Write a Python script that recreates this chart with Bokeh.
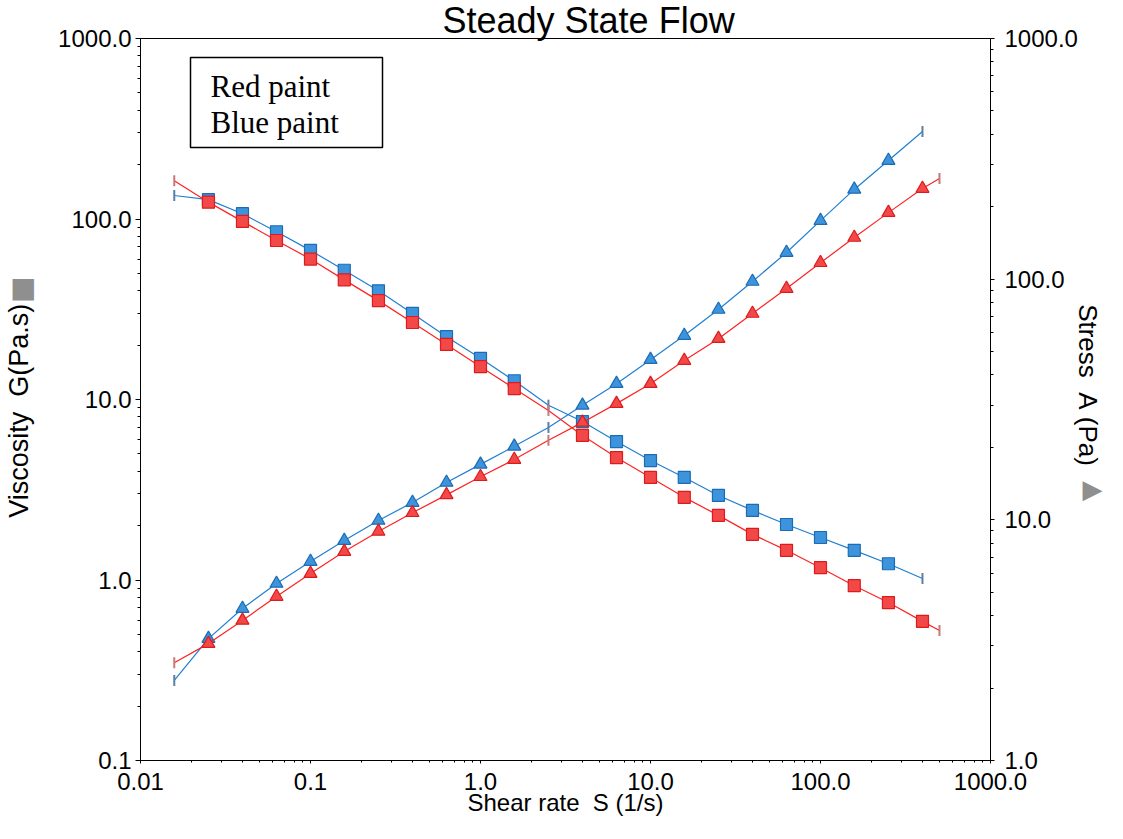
import math
from bokeh.plotting import figure
from bokeh.models import (LogScale, LinearScale, Range1d, LogAxis, LinearAxis,
                          FixedTicker, CustomJSTickFormatter, Label,
                          BoxAnnotation)
from bokeh.embed import file_html
from bokeh.resources import INLINE

# ---------------- data ----------------
shear_blue = [0.0158, 0.0251, 0.0398, 0.0631, 0.1, 0.158, 0.251, 0.398, 0.631,
              1.0, 1.58, 2.51, 3.98, 6.31, 10.0, 15.8, 25.1, 39.8, 63.1, 100.0,
              158.0, 251.0, 398.0]
visc_blue = [135, 128, 107, 85, 67, 52, 40, 30, 22.3, 16.9, 12.7, 9.3, 7.55,
             5.85, 4.59, 3.70, 2.94, 2.43, 2.03, 1.72, 1.46, 1.23, 1.02]
stress_blue = [2.15, 3.21, 4.28, 5.44, 6.71, 8.20, 9.94, 11.8, 14.3, 17.0,
               20.2, 24.2, 29.9, 36.8, 46.3, 58.3, 74.8, 97.8, 129, 175, 236,
               311, 411]
unmarked_blue = [0, 11, 22]

shear_red = [0.0158, 0.0251, 0.0398, 0.0631, 0.1, 0.158, 0.251, 0.398, 0.631,
             1.0, 1.58, 2.51, 3.98, 6.31, 10.0, 15.8, 25.1, 39.8, 63.1, 100.0,
             158.0, 251.0, 398.0, 501.0]
visc_red = [163, 124, 97, 76, 60, 46, 35.3, 26.7, 20.2, 15.2, 11.5, 8.7, 6.32,
            4.77, 3.70, 2.87, 2.28, 1.79, 1.46, 1.17, 0.93, 0.75, 0.59, 0.525]
stress_red = [2.55, 3.06, 3.82, 4.80, 5.98, 7.38, 8.95, 10.7, 12.7, 15.1,
              17.8, 21.4, 25.4, 30.4, 36.8, 45.9, 56.6, 72.0, 91.4, 117, 149,
              189, 238, 262]
unmarked_red = [0, 11, 23]

x_ticks = [0.01, 0.1, 1, 10, 100, 1000]
visc_ticks = [0.1, 1, 10, 100, 1000]
stress_ticks = [1, 10, 100, 1000]

FONT = "Liberation Sans"

def minors(lo_exp, hi_exp):
    return [k * 10.0 ** e for e in range(lo_exp, hi_exp) for k in range(2, 10)]

FRAME_H = 722  # pixel height of plot frame (used for icon placement axis)

p = figure(width=1107, height=823, x_axis_type="log", y_axis_type="log",
           x_range=Range1d(0.01, 1000), y_range=Range1d(0.1, 1000),
           output_backend="svg", toolbar_location=None,
           min_border_left=140, min_border_right=117, min_border_top=38,
           min_border_bottom=63)
p.extra_y_ranges = {"stress": Range1d(1, 1000), "px": Range1d(0, FRAME_H)}
p.extra_y_scales = {"stress": LogScale(), "px": LinearScale()}
right_axis = LogAxis(y_range_name="stress")
p.add_layout(right_axis, "right")

p.title.text = "Steady State Flow"
p.title.text_font = FONT
p.title.text_font_size = "36px"
p.title.text_font_style = "normal"
p.title.text_color = "black"
p.title.align = "left"
p.title.offset = 302
p.title.standoff = -5

p.xgrid.visible = False
p.ygrid.visible = False
p.outline_line_color = "black"
p.outline_line_width = 1
p.background_fill_color = "white"
p.border_fill_color = "white"

fmt_code = "return tick < 0.1 ? tick.toString() : tick.toFixed(1);"

p.xaxis.ticker = FixedTicker(ticks=x_ticks, minor_ticks=minors(-2, 3))
p.yaxis[0].ticker = FixedTicker(ticks=visc_ticks, minor_ticks=minors(-1, 3))
right_axis.ticker = FixedTicker(ticks=stress_ticks, minor_ticks=minors(0, 3))

for ax in [p.xaxis[0], p.yaxis[0], right_axis]:
    ax.formatter = CustomJSTickFormatter(code=fmt_code)
    ax.major_label_text_font = FONT
    ax.major_label_text_font_size = "24px"
    ax.major_label_text_color = "black"
    ax.axis_line_color = "black"
    ax.major_tick_line_color = "black"
    ax.minor_tick_line_color = "black"
    ax.major_tick_in = 0
    ax.minor_tick_in = 0

p.xaxis.major_tick_out = 3
p.xaxis.minor_tick_out = 2
p.xaxis.major_label_standoff = 9
p.xaxis.axis_label = "Shear rate\u00a0\u00a0S\u00a0(1/s)"
p.xaxis.axis_label_text_font = FONT
p.xaxis.axis_label_text_font_style = "normal"
p.xaxis.axis_label_text_color = "black"
p.xaxis.axis_label_text_font_size = "24px"
p.xaxis.axis_label_standoff = -4

p.yaxis[0].major_tick_out = 5
p.yaxis[0].minor_tick_out = 3
p.yaxis[0].major_label_standoff = 4

right_axis.major_tick_out = 4
right_axis.minor_tick_out = 3
right_axis.major_label_standoff = 10


def icon_axis(glyph, icon_px, label, label_size, label_standoff, icon_size,
              icon_standoff):
    """Outer helper axis: a grey icon as its only tick label, plus the
    axis title pulled back into the same column."""
    ax = LinearAxis(y_range_name="px",
                    ticker=FixedTicker(ticks=[icon_px], minor_ticks=[]),
                    formatter=CustomJSTickFormatter(code="return '%s';" % glyph))
    ax.axis_line_color = None
    ax.major_tick_line_color = None
    ax.minor_tick_line_color = None
    ax.major_tick_in = 0
    ax.major_tick_out = 0
    ax.minor_tick_in = 0
    ax.minor_tick_out = 0
    ax.major_label_text_font = "DejaVu Sans"
    ax.major_label_text_font_size = icon_size
    ax.major_label_text_color = "#8f8f8f"
    ax.major_label_standoff = icon_standoff
    ax.axis_label = label
    ax.axis_label_text_font = FONT
    ax.axis_label_text_font_style = "normal"
    ax.axis_label_text_color = "black"
    ax.axis_label_text_font_size = label_size
    ax.axis_label_standoff = label_standoff
    return ax

left_icon_axis = icon_axis("\u25a0", FRAME_H - 249,
                           "Viscosity\u00a0\u00a0G(Pa.s)\u00a0\u00a0\u00a0",
                           "27px", -27, "28px", 19)
p.add_layout(left_icon_axis, "left")

right_icon_axis = icon_axis("\u25b6", FRAME_H - 450,
                            "Stress\u00a0\u00a0A\u00a0(Pa)\u00a0\u00a0\u00a0\u00a0",
                            "26px", -32, "26px", 2)
p.add_layout(right_icon_axis, "right")

# ---------------- series ----------------
def split(xs, ys, unmarked):
    mx = [x for i, x in enumerate(xs) if i not in unmarked]
    my = [y for i, y in enumerate(ys) if i not in unmarked]
    ux = [xs[i] for i in unmarked]
    uy = [ys[i] for i in unmarked]
    return mx, my, ux, uy

series = [
    (shear_blue, visc_blue, stress_blue, unmarked_blue,
     "#1f7fd2", "#3d94dc", "#1c6cb4", "#5b7fa6"),
    (shear_red, visc_red, stress_red, unmarked_red,
     "#ff2222", "#f34848", "#dc1c1c", "#c77878"),
]

for xs, vis, st, um, lc, fc, oc, tc in series:
    p.line(xs, vis, line_color=lc, line_width=1.2)
    p.line(xs, st, line_color=lc, line_width=1.2, y_range_name="stress")
    mx, my, ux, uy = split(xs, vis, um)
    p.scatter(mx, my, marker="square", size=12, fill_color=fc,
              line_color=oc, line_width=1.2)
    p.scatter(ux, uy, marker="dash", angle=math.pi / 2, size=11,
              line_color=tc, line_width=2)
    mx, my, ux, uy = split(xs, st, um)
    p.scatter(mx, my, marker="triangle", size=13, fill_color=fc,
              line_color=oc, line_width=1.2, y_range_name="stress")
    p.scatter(ux, uy, marker="dash", angle=math.pi / 2, size=11,
              line_color=tc, line_width=2, y_range_name="stress")

# ---------------- legend box ----------------
p.add_layout(BoxAnnotation(left=50, right=242, top=703, bottom=613,
                           left_units="screen", right_units="screen",
                           top_units="screen", bottom_units="screen",
                           fill_color="white", fill_alpha=1.0,
                           line_color="black", line_alpha=1.0,
                           line_width=1.5))
for txt, yb in [("Red paint", 674), ("Blue paint", 638)]:
    p.add_layout(Label(x=70, y=yb, x_units="screen", y_units="screen",
                       text=txt, text_font="Liberation Serif",
                       text_font_size="31px", text_baseline="alphabetic",
                       text_color="black"))

open("out.html", "w").write(file_html(p, INLINE))
